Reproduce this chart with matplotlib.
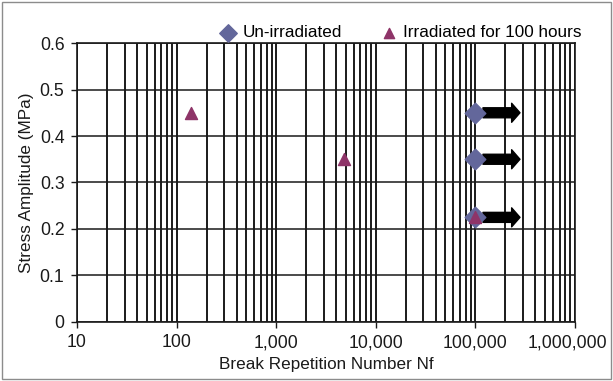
import matplotlib
matplotlib.use("Agg")
import matplotlib.pyplot as plt
import matplotlib.transforms as mtransforms
from matplotlib.ticker import FixedLocator, FuncFormatter, LogLocator, NullFormatter
from matplotlib.patches import Rectangle

plt.rcParams["font.family"] = ["Liberation Sans", "DejaVu Sans"]

# data
unirr_cycles = [100000, 100000, 100000]
unirr_stress = [0.45, 0.35, 0.225]
irr_cycles = [140, 4800, 100000]
irr_stress = [0.45, 0.35, 0.225]
# run-outs (no failure) shown as arrows
runout_start = 119000
runout_end = 280000
runout_stress = [0.45, 0.35, 0.225]
x_ticks = [10, 100, 1000, 10000, 100000, 1000000]
y_ticks = [0, 0.1, 0.2, 0.3, 0.4, 0.5, 0.6]

fig = plt.figure(figsize=(6.13, 3.81), dpi=100)
fig.patches.append(Rectangle((0.004, 0.006), 0.992, 0.988, transform=fig.transFigure,
                             fill=False, edgecolor="#8c8c8c", linewidth=1.0))
ax = fig.add_axes([0.1256, 0.155, 0.8125, 0.732])

ax.set_xscale("log")
ax.set_xlim(10, 1e6)
ax.set_ylim(0, 0.6)

ax.xaxis.set_major_locator(FixedLocator(x_ticks))
ax.xaxis.set_major_formatter(FuncFormatter(lambda v, p: f"{int(round(v)):,}"))
ax.xaxis.set_minor_locator(LogLocator(base=10, subs=range(2, 10)))
ax.xaxis.set_minor_formatter(NullFormatter())
ax.set_yticks(y_ticks)
ax.yaxis.set_major_formatter(FuncFormatter(lambda v, p: "0" if v == 0 else f"{v:.1f}"))

ax.grid(True, which="major", axis="x", color="#1a1a1a", linewidth=1.4)
ax.grid(True, which="minor", axis="x", color="#1a1a1a", linewidth=1.4)
ax.grid(True, which="major", axis="y", color="#1a1a1a", linewidth=1.1)
ax.set_axisbelow(True)

ax.tick_params(axis="both", which="major", direction="out", length=4, width=1, labelsize=12.7,
               colors="#1a1a1a", pad=5)
ax.tick_params(axis="x", which="minor", length=0)
for s in ax.spines.values():
    s.set_color("#1a1a1a")
    s.set_linewidth(1.2)

# last x label is pulled left to stay inside the frame, like the original
last_label = ax.xaxis.get_major_ticks()[-1].label1
last_label.set_transform(last_label.get_transform()
                         + mtransforms.ScaledTranslation(-0.08, 0, fig.dpi_scale_trans))

for y in runout_stress:
    ax.annotate("", xy=(runout_end, y), xytext=(runout_start, y),
                arrowprops=dict(arrowstyle="simple,head_width=1.37,head_length=0.6,tail_width=0.72",
                                color="black", shrinkA=0, shrinkB=0), zorder=4)

ax.scatter(unirr_cycles, unirr_stress, marker="D", s=110, color="#63679b",
           label="Un-irradiated", zorder=5)
ax.scatter(irr_cycles, irr_stress, marker="^", s=75, color="#8e3468",
           label="Irradiated for 100 hours", zorder=6)

ax.set_xlabel("Break Repetition Number Nf", fontsize=12.3, color="#1a1a1a", labelpad=4)
ax.set_ylabel("Stress Amplitude (MPa)", fontsize=12.3, color="#1a1a1a", labelpad=4)

ax.legend(loc="lower center", bbox_to_anchor=(0.65, 0.985), ncol=2, frameon=False,
          fontsize=12.3, handlelength=1.0, handletextpad=0.35, columnspacing=2.2,
          markerscale=0.85, borderaxespad=0.0)

fig.savefig("out.png", dpi=100)
